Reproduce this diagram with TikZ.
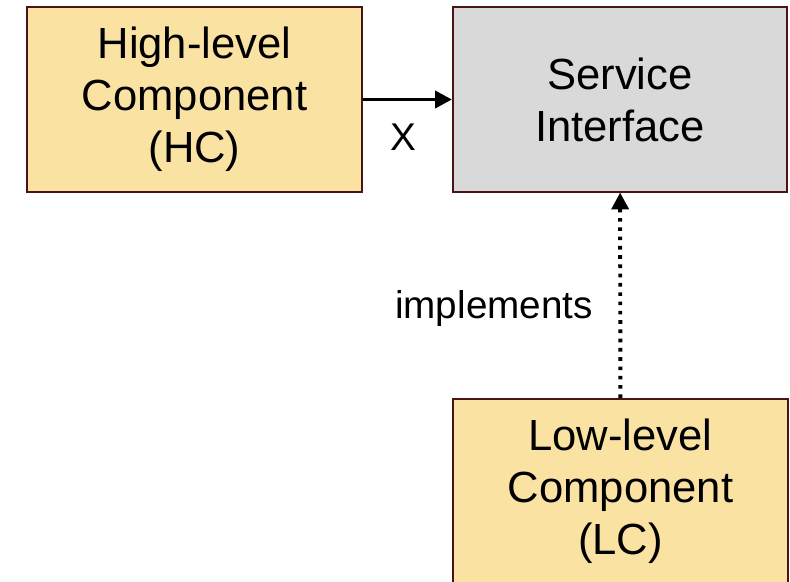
\documentclass[tikz,border=0pt]{standalone}
\usepackage{fontspec}
\setmainfont{Liberation Sans}
\usetikzlibrary{arrows.meta,positioning}
\definecolor{compyellow}{HTML}{FAE3A2}
\definecolor{compgray}{HTML}{D9D9D9}
\definecolor{compline}{HTML}{4A1414}
\tikzset{
  comp/.style={draw=compline,line width=1.4pt,minimum width=8.35cm,minimum height=4.6cm,
    align=center,inner sep=0pt,font=\fontsize{31}{37}\selectfont},
  lbl/.style={font=\fontsize{27.5}{33}\selectfont,inner sep=0pt},
  link/.style={line width=2.8pt,-{Triangle[length=12pt,width=12pt]}}
}
\begin{document}
\begin{tikzpicture}[x=0.025cm,y=-0.025cm]
  \useasboundingbox (0,0) rectangle (790,581);
  \clip (0,0) rectangle (790,581);
  \node[comp,fill=compyellow](hc) at (194.5,99.5){High-level\\Component\\(HC)};
  \node[comp,fill=compgray](si) at (620,99.5){Service\\Interface};
  \node[comp,fill=compyellow](lc) at (620.5,491){Low-level\\Component\\(LC)};
  \draw[link](hc) -- (si);
  \draw[link,dash pattern=on 2.6pt off 4pt](lc) -- (si);
  \node[lbl](x) at (403,137){X};
  \node[lbl](impl) at (494,308){implements};
\end{tikzpicture}
\end{document}
